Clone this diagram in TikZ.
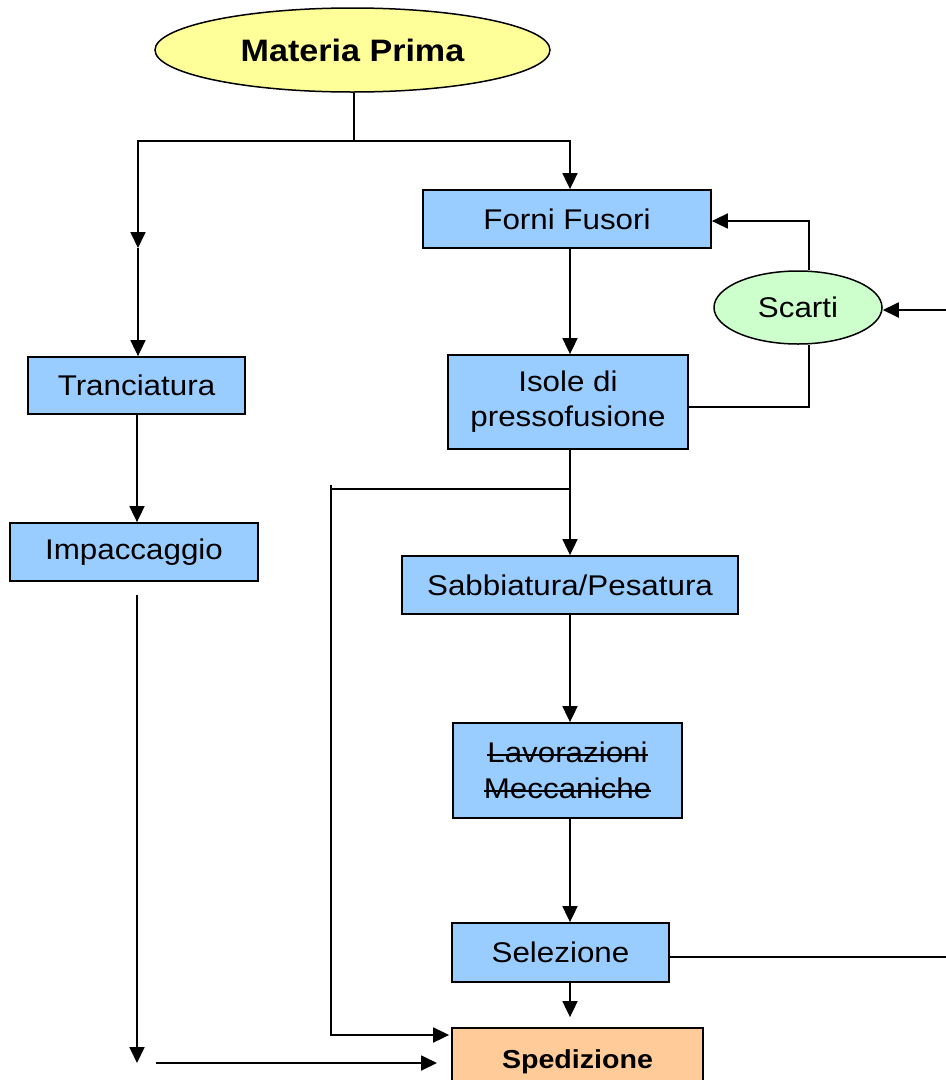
\documentclass[tikz,border=0pt]{standalone}
\usepackage{fontspec}
\setmainfont[FakeStretch=1.1]{Liberation Sans}
\newsavebox{\strkbox}
\newcommand{\strk}[1]{\sbox{\strkbox}{#1}\rlap{\rule[0.25em]{\wd\strkbox}{1.6pt}}\usebox{\strkbox}}
\usetikzlibrary{arrows.meta,shapes.geometric}
\definecolor{boxblue}{HTML}{99CCFF}
\definecolor{boxyellow}{HTML}{FFFF99}
\definecolor{boxgreen}{HTML}{CCFFCC}
\definecolor{boxorange}{HTML}{FFCC99}
\tikzset{
  stepbox/.style={draw=black, line width=1.8pt, fill=boxblue, inner sep=0pt, align=center,
    font=\fontsize{28.5}{35}\selectfont},
  ovalbox/.style={draw=black, line width=1.5pt, ellipse, inner sep=0pt},
  conn/.style={line width=1.8pt, draw=black},
  arr/.style={conn, -{Triangle[length=16pt,width=15pt]}},
}
\begin{document}
\begin{tikzpicture}[x=1pt,y=-1pt]
\useasboundingbox (0,0) rectangle (946,1080);
\clip (0,0) rectangle (946,1080);
% nodes
\node[ovalbox, fill=boxyellow, minimum width=395pt, minimum height=84pt,
  font=\fontsize{31}{36}\selectfont\bfseries] (mat) at (352.5,50) {Materia Prima};
\node[stepbox, minimum width=288pt, minimum height=58pt] (forni) at (567,219) {Forni Fusori};
\node[stepbox, minimum width=240pt, minimum height=94pt] (isole) at (568,402) {Isole di\\pressofusione};
\node[ovalbox, fill=boxgreen, minimum width=168pt, minimum height=73pt,
  font=\fontsize{28.5}{34}\selectfont] (scarti) at (798,307.5) {Scarti};
\node[stepbox, minimum width=217pt, minimum height=57pt] (tranc) at (136.5,385.5) {Tranciatura};
\node[stepbox, minimum width=248pt, minimum height=58pt] (impac) at (134,552) {Impaccaggio};
\node[stepbox, minimum width=336pt, minimum height=58pt] (sabb) at (570,585) {Sabbiatura/Pesatura};
\node[stepbox, minimum width=229pt, minimum height=95pt, font=\fontsize{28.5}{36}\selectfont] (lavor) at (567.5,770.5) {\strk{Lavorazioni}\\\strk{Meccaniche}};
\node[stepbox, minimum width=217pt, minimum height=59pt] (selez) at (560.5,952.5) {Selezione};
\node[stepbox, fill=boxorange, minimum width=251pt, minimum height=62pt,
  font=\fontsize{26}{30}\selectfont\bfseries, text depth=0pt] (sped) at (577.5,1059) {Spedizione};
% helper coordinates
\coordinate (col) at (570,0);
\coordinate (j1) at (354,141);
\coordinate (lmid) at (138,248);
\coordinate (lx) at (137,0);
\coordinate (sx) at (809,0);
\coordinate (sy1) at (0,221);
\coordinate (sy2) at (0,407);
\coordinate (e1) at (946,310);
\coordinate (e2) at (946,957);
\coordinate (s1) at (570,489);
\coordinate (s2) at (331,489);
\coordinate (v1) at (331,485);
\coordinate (v2) at (331,1035);
\coordinate (ib) at (137,595);
\coordinate (ie) at (137,1063);
\coordinate (hs) at (156,1063);
\coordinate (he) at (437,1063);
% connectors
\draw[conn] (mat.south -| j1) -- (j1);
\draw[arr] (j1) -| (forni.north -| col);
\draw[arr] (j1) -| (lmid);
\draw[arr] (lmid) -- (tranc.north -| lmid);
\draw[arr] (tranc.south -| lx) -- (impac.north -| lx);
\draw[arr] (ib) -- (ie);
\draw[arr] (hs) -- (he);
\draw[arr] (forni.south -| col) -- (isole.north -| col);
\draw[arr] (scarti.north -| sx) |- (forni.east |- sy1);
\draw[conn] (scarti.south -| sx) |- (isole.east |- sy2);
\draw[arr] (e1) -- (scarti.east |- e1);
\draw[conn] (selez.east |- e2) -- (e2);
\draw[conn] (isole.south -| col) -- (s1);
\draw[conn] (s1) -- (s2);
\draw[arr] (s1) -- (sabb.north -| col);
\draw[arr] (v1) -- (v2) -- ([xshift=-2pt]sped.west |- v2);
\draw[arr] (sabb.south -| col) -- (lavor.north -| col);
\draw[arr] (lavor.south -| col) -- (selez.north -| col);
\draw[arr, shorten >=10pt] (selez.south -| col) -- (sped.north -| col);
\end{tikzpicture}
\end{document}
